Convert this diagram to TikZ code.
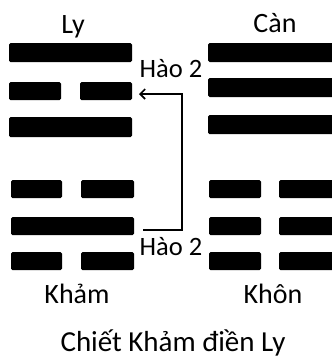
\documentclass[tikz,border=0pt]{standalone}
\usepackage{fontspec}
\setmainfont{Carlito}
\usetikzlibrary{arrows.meta}
\begin{document}
\begin{tikzpicture}[x=1pt,y=-1pt,
  barfill/.style={fill=black,rounded corners=1.5pt},
  lbl/.style={anchor=base,inner sep=0pt,font=\fontsize{28}{32}\selectfont},
  hao/.style={anchor=base,inner sep=0pt,font=\fontsize{26.5}{30}\selectfont},
  link/.style={line width=1.6pt,-{Straight Barb[length=5pt,width=10pt]}}]
\useasboundingbox (0,0) rectangle (332,359);
% Ly
\fill[barfill] (9,43) rectangle (132,62);
\fill[barfill] (9,82) rectangle (61,100);
\fill[barfill] (80,82) rectangle (132,100);
\fill[barfill] (9,117) rectangle (132,137);
% Can
\fill[barfill] (208,43) rectangle (334,62);
\fill[barfill] (208,78) rectangle (334,97);
\fill[barfill] (208,115) rectangle (334,134);
% Kham
\fill[barfill] (11,180) rectangle (62,198);
\fill[barfill] (81,180) rectangle (134,198);
\fill[barfill] (11,217) rectangle (134,235);
\fill[barfill] (11,252) rectangle (62,270);
\fill[barfill] (81,252) rectangle (134,270);
% Khon
\fill[barfill] (209,180) rectangle (261,198);
\fill[barfill] (279,180) rectangle (334,198);
\fill[barfill] (209,217) rectangle (261,235);
\fill[barfill] (279,217) rectangle (334,235);
\fill[barfill] (209,252) rectangle (261,270);
\fill[barfill] (279,252) rectangle (334,270);
% labels
\node[lbl] (ly) at (73,33) {Ly};
\node[lbl] (can) at (275,32) {Càn};
\node[lbl] (kham) at (77,303) {Khảm};
\node[lbl] (khon) at (273,303) {Khôn};
\node[lbl,font=\fontsize{29}{32}\selectfont] (title) at (173,351) {Chiết Khảm điền Ly};
\node[hao] (h1) at (171,77) {Hào 2};
\node[hao] (h2) at (171,255) {Hào 2};
% arrow
\coordinate (s) at (143,230);
\coordinate (c) at (182,94);
\coordinate (e) at (139,94);
\draw[link] (s) -| (c) -- (e);
\end{tikzpicture}
\end{document}
